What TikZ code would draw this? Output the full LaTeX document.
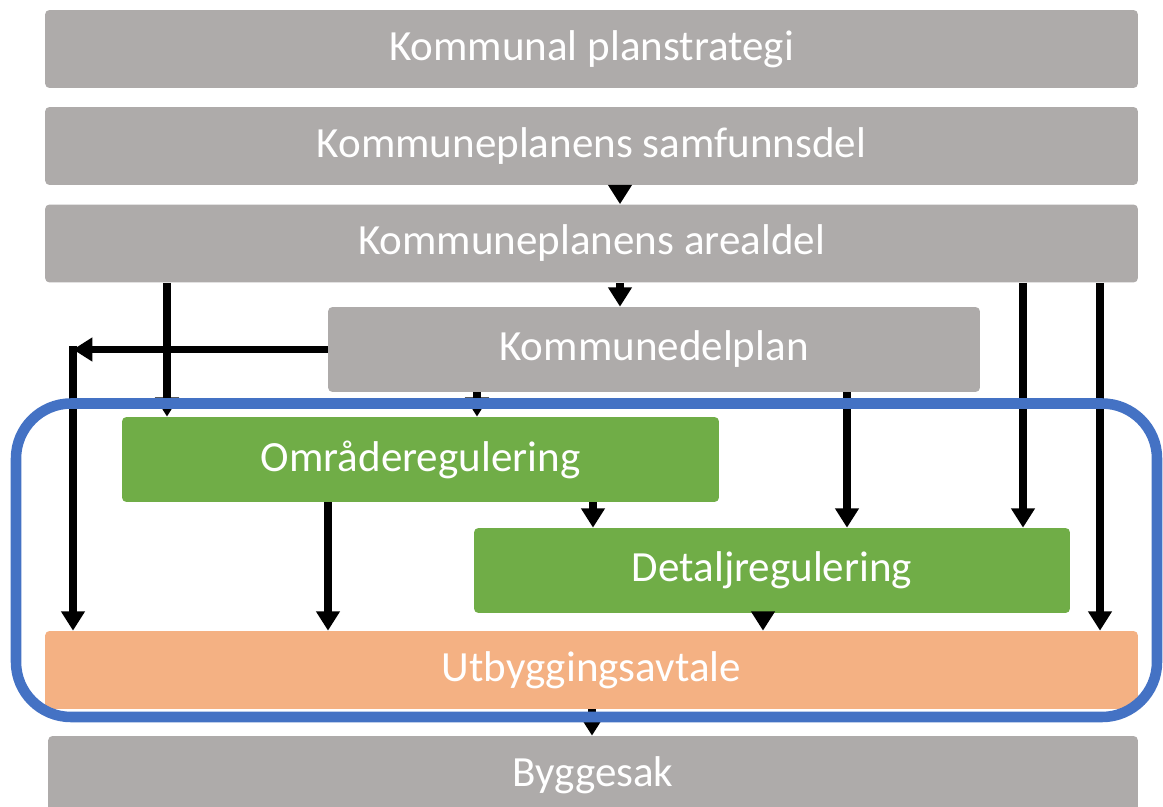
\documentclass[tikz,border=0pt]{standalone}
\usepackage{fontspec}
\setmainfont{Carlito}
\usetikzlibrary{arrows.meta}
\definecolor{plangra}{HTML}{AEABAA}
\definecolor{reggronn}{HTML}{70AD47}
\definecolor{avtaleoransje}{HTML}{F4B183}
\definecolor{rammeblaa}{HTML}{4472C4}
\begin{document}
\begin{tikzpicture}[x=0.02cm, y=-0.02cm,
        boks/.style={rectangle, rounded corners=2.5pt, inner sep=0pt, text=white, font=\fontsize{24.5}{30}\selectfont, minimum height=1.56cm},
        arr/.style={line width=4pt, -{Triangle[width=13pt,length=11pt]}}]
    \useasboundingbox (0,0) rectangle (1163,807);
    \node[boks, fill=plangra, minimum width=21.86cm] (strat) at (591.5,49) {Kommunal planstrategi};
    \node[boks, fill=plangra, minimum width=21.86cm] (samf) at (591.5,146) {Kommuneplanens samfunnsdel};
    \node[boks, fill=plangra, minimum width=21.86cm] (areal) at (591.5,243.5) {Kommuneplanens arealdel};
    \node[boks, fill=plangra, minimum width=13.04cm, minimum height=1.7cm] (kdp) at (654,349.5) {Kommunedelplan};
    \node[boks, fill=reggronn, minimum width=11.94cm, minimum height=1.7cm] (omr) at (420.5,459.5) {Områderegulering};
    \node[boks, fill=reggronn, minimum width=11.92cm, minimum height=1.7cm] (det) at (772,570.5) {Detaljregulering};
    \node[boks, fill=avtaleoransje, minimum width=21.86cm] (utb) at (591.5,670) {Utbyggingsavtale};
    \node[boks, fill=plangra, minimum width=21.8cm] (bygg) at (593,775) {Byggesak};
    \coordinate (venstre) at (73,349.5);
    \draw[arr] (620,0 |- samf.south) -- (620,0 |- areal.north);
    \draw[arr] (620,0 |- areal.south) -- (620,0 |- kdp.north);
    \draw[arr] (167,0 |- areal.south) -- (167,0 |- omr.north);
    \draw[arr] (kdp.west) -- (venstre);
    \draw[arr] ([yshift=2pt]venstre) -- (venstre |- utb.north);
    \draw[arr] (477,0 |- kdp.south) -- (477,0 |- omr.north);
    \draw[arr] (847,0 |- kdp.south) -- (847,0 |- det.north);
    \draw[arr] (1023,0 |- areal.south) -- (1023,0 |- det.north);
    \draw[arr] (1100,0 |- areal.south) -- (1100,0 |- utb.north);
    \draw[arr] (593,0 |- omr.south) -- (593,0 |- det.north);
    \draw[arr] (328,0 |- omr.south) -- (328,0 |- utb.north);
    \draw[arr] (763,0 |- det.south) -- (763,0 |- utb.north);
    \draw[arr] (592,0 |- utb.south) -- (592,0 |- bygg.north);
    \draw[rammeblaa, line width=6pt, rounded corners=1.1cm] (16,403.5) rectangle (1157,717);
\end{tikzpicture}
\end{document}
